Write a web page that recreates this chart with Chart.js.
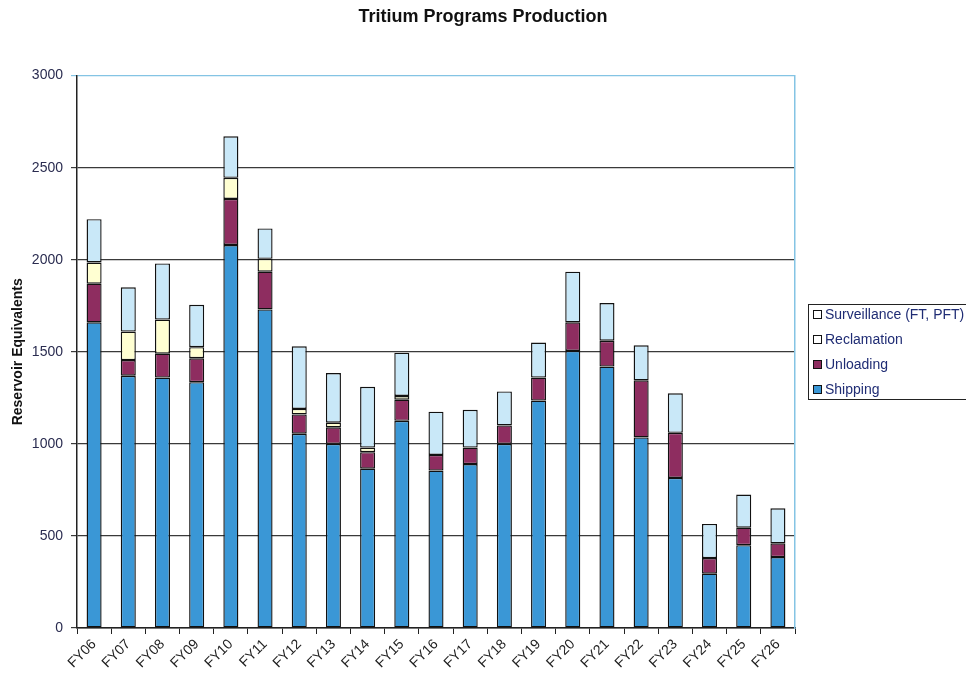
<!DOCTYPE html>
<html>
<head>
<meta charset="utf-8">
<title>Tritium Programs Production</title>
<script src="https://cdn.jsdelivr.net/npm/chart.js@4/dist/chart.umd.min.js"></script>
<style>
  html, body { margin: 0; padding: 0; background: #fff; overflow: hidden; }
  #wrap { position: relative; width: 966px; height: 674px; overflow: hidden; }
  #legend {
    position: absolute; left: 808px; top: 304px; width: 185px; height: 96px;
    border: 1px solid #222; box-sizing: border-box; background: #fff;
    font: 14px "Liberation Sans", Arial, sans-serif; color: #1f2c74;
  }
  #legend ul { list-style: none; margin: 0; padding: 0; position: absolute; top: -3px; left: 4px; }
  #legend li { height: 25px; line-height: 25px; white-space: nowrap; }
  #legend span.box {
    display: inline-block; width: 7px; height: 7px; border: 1px solid #111;
    margin-right: 3px; vertical-align: 0px;
  }
</style>
</head>
<body>
<div id="wrap">
  <canvas id="chart" width="966" height="674"></canvas>
  <div id="legend"></div>
</div>
<script>
const categories = ['FY06','FY07','FY08','FY09','FY10','FY11','FY12','FY13','FY14','FY15','FY16',
                    'FY17','FY18','FY19','FY20','FY21','FY22','FY23','FY24','FY25','FY26'];

const shipping     = [1660,1370,1360,1335,2080,1730,1055,1000, 865,1125, 855, 890,1000,1235,1505,1420,1035, 815, 295, 450, 385];
const unloading    = [ 210,  85, 130, 130, 250, 205, 105,  90,  90, 115,  85,  90, 100, 125, 155, 140, 310, 245,  85,  95,  75];
const reclamation  = [ 115, 155, 185,  60, 115,  70,  30,  25,  25,  20,   0,   0,   0,   0,   0,   0,   0,   0,   0,   0,   0];
const surveillance = [ 235, 240, 305, 230, 225, 165, 340, 270, 330, 235, 235, 205, 185, 190, 275, 205, 190, 215, 185, 180, 190];

const yTickLabels = ['0','500','1000','1500','2000','2500','3000'];

const seriesNames = ['Shipping', 'Unloading', 'Reclamation', 'Surveillance (FT, PFT)'];
const seriesColors = ['#3a97d6', '#8e2d60', '#ffffd2', '#c9e8f8'];

const font = '"Liberation Sans", Arial, sans-serif';

function makeSet(i, data) {
    return {
        label: seriesNames[i],
        data: data,
        backgroundColor: seriesColors[i],
        borderColor: '#111',
        borderWidth: ctx => ctx.raw ? 1.4 : 0,
        borderSkipped: false,
        barPercentage: 0.44,
        categoryPercentage: 1.0
    };
}

const chart = new Chart(document.getElementById('chart'), {
    type: 'bar',
    data: {
        labels: categories,
        datasets: [
            makeSet(0, shipping),
            makeSet(1, unloading),
            makeSet(2, reclamation),
            makeSet(3, surveillance)
        ]
    },
    options: {
        responsive: false,
        animation: false,
        layout: { padding: 0 },
        plugins: {
            legend: { display: false },
            tooltip: { enabled: false },
            title: {
                display: true,
                text: 'Tritium Programs Production',
                color: '#111',
                font: { family: font, size: 18, weight: 'bold' },
                padding: { top: 6, bottom: 48 }
            }
        },
        scales: {
            x: {
                stacked: true,
                grid: { display: true, drawOnChartArea: false, drawTicks: true, tickLength: 6, color: '#222' },
                border: { color: '#222', width: 1.5 },
                ticks: {
                    minRotation: 45, maxRotation: 45, autoSkip: false, padding: 2,
                    color: '#222', font: { family: font, size: 14 }
                },
                afterFit: s => { s.height = 46; }
            },
            y: {
                stacked: true,
                min: 0, max: 3000,
                ticks: {
                    stepSize: 500, padding: 8, color: '#2a2c50',
                    font: { family: font, size: 14 },
                    callback: (v) => yTickLabels[v / 500]
                },
                grid: {
                    color: ctx => ctx.tick && ctx.tick.value === 3000 ? '#84c4e4' : '#3a3a3a',
                    tickLength: 6, lineWidth: 1.2
                },
                border: { color: '#222', width: 1.5 },
                title: {
                    display: true, text: 'Reservoir Equivalents', color: '#111',
                    font: { family: font, size: 14, weight: 'bold' },
                    padding: { top: 10, bottom: 0 }
                },
                afterFit: s => { s.width = 77; }
            },
            y2: {
                position: 'right',
                ticks: { display: false },
                grid: { display: false },
                border: { color: '#84c4e4', width: 1.5 },
                afterFit: s => { s.width = 171; }
            }
        }
    }
});

// legend, top series first as in the original
const ul = document.createElement('ul');
for (let i = chart.data.datasets.length - 1; i >= 0; i--) {
    const ds = chart.data.datasets[i];
    const li = document.createElement('li');
    const box = document.createElement('span');
    box.className = 'box';
    box.style.background = i >= 2 ? '#fff' : ds.backgroundColor;
    li.appendChild(box);
    li.appendChild(document.createTextNode(ds.label));
    ul.appendChild(li);
}
document.getElementById('legend').appendChild(ul);
</script>
</body>
</html>
